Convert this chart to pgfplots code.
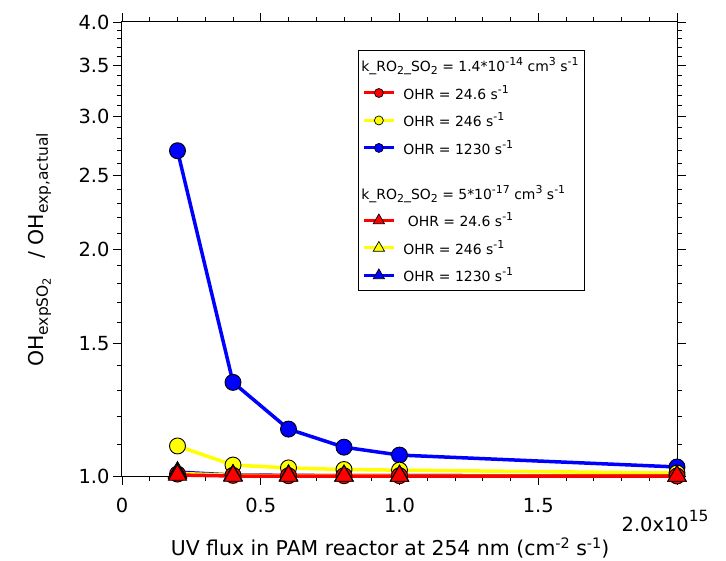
\documentclass[border=0pt]{standalone}
\usepackage{pgfplots}
\pgfplotsset{compat=1.18}
\usepackage{fontspec}
\setmainfont{DejaVu Sans}
\definecolor{cred}{RGB}{255,0,0}
\definecolor{cyel}{RGB}{255,255,0}
\definecolor{cblue}{RGB}{0,0,255}
\newcommand{\sbs}[1]{\raisebox{-4bp}{\fontsize{15.5}{17}\selectfont #1}}
\newcommand{\sps}[1]{\raisebox{7bp}{\fontsize{14.5}{16}\selectfont #1}}
\newcommand{\lsps}[1]{\raisebox{6bp}{\fontsize{11}{13}\selectfont #1}}
\newcommand{\lsbs}[1]{\raisebox{-3bp}{\fontsize{11}{13}\selectfont #1}}
\pgfplotsset{
  circ/.style={color=#1, line width=3.5bp, mark=*, mark size=8bp,
    mark options={fill=#1, draw=black, line width=0.9bp, solid}},
  tri/.style={color=#1, line width=3.5bp, mark=triangle*, mark size=10.5bp,
    mark options={fill=#1, draw=black, line width=0.9bp, solid}},
  lcirc/.style={color=#1, line width=3bp, mark=*, mark size=4.5bp,
    mark options={fill=#1, draw=black, line width=0.7bp, solid}},
  ltri/.style={color=#1, line width=3bp, mark=triangle*, mark size=6.5bp,
    mark options={fill=#1, draw=black, line width=0.7bp, solid}},
}
\begin{document}
\begin{tikzpicture}
\useasboundingbox (-122bp,-85bp) rectangle (604bp,476bp);
\begin{axis}[
  at={(0,0)}, anchor=south west,
  scale only axis, width=555bp, height=454bp,
  xmin=0, xmax=2.0, ymode=log, ymin=1.0, ymax=4.0,
  xtick={0,0.5,1.0,1.5,2.0},
  xticklabels={0,0.5,1.0,1.5,{}},
  minor xtick={0.1,0.2,0.3,0.4,0.6,0.7,0.8,0.9,1.1,1.2,1.3,1.4,1.6,1.7,1.8,1.9},
  ytick={1,1.5,2,2.5,3,3.5,4},
  yticklabels={1.0,1.5,2.0,2.5,3.0,3.5,4.0},
  minor ytick={1.1,1.2,1.3,1.4,1.6,1.7,1.8,1.9,2.1,2.2,2.3,2.4,2.6,2.7,2.8,2.9,3.1,3.2,3.3,3.4,3.6,3.7,3.8,3.9},
  tick align=outside,
  major tick length=9bp, minor tick length=5bp,
  every tick/.style={black, line width=0.9bp},
  axis line style={line width=1bp},
  tick label style={font=\fontsize{19.5}{22}\selectfont},
  xticklabel style={yshift=-10bp},
  /pgf/number format/assume math mode=true,
  xlabel={UV flux in PAM reactor at 254 nm (cm\sps{-2} s\sps{-1})},
  ylabel={OH\sbs{expSO\raisebox{-3bp}{\fontsize{11.5}{13}\selectfont 2}}\ \ \ / OH\sbs{exp,actual}},
  label style={font=\fontsize{20.5}{23}\selectfont},
  x label style={at={(axis description cs:0.483,-0.158)}, anchor=center},
  y label style={at={(axis description cs:-0.148,0.498)}, anchor=center},
  clip=false,
  legend cell align=left,
  legend image code/.code={\draw[mark repeat=2,mark phase=2,#1] plot coordinates {(0bp,0bp) (15bp,0bp) (30bp,0bp)};},
  legend style={at={(rel axis cs:0.425,0.938)}, anchor=north west, draw=black, line width=1bp,
    font=\fontsize{14}{17}\selectfont, row sep=8bp, column sep=6bp, inner xsep=4bp, inner ysep=5bp},
]
% circles: k = 1.4e-14
\addplot[circ=cblue, forget plot] coordinates {(0.2,2.70) (0.4,1.331) (0.6,1.154) (0.8,1.092) (1.0,1.066) (2.0,1.028)};
\addplot[circ=cyel, forget plot] coordinates {(0.2,1.096) (0.4,1.034) (0.6,1.025) (0.8,1.020) (1.0,1.018) (2.0,1.009)};
\addplot[circ=cred, forget plot] coordinates {(0.2,1.006) (0.4,1.002) (0.6,1.001) (0.8,1.001) (1.0,1.001) (2.0,1.000)};
% triangles: k = 5e-17
\addplot[tri=cblue, forget plot] coordinates {(0.2,1.012) (0.4,1.003) (0.6,1.002) (0.8,1.001) (1.0,1.001) (2.0,1.000)};
\addplot[tri=cyel, forget plot] coordinates {(0.2,1.008) (0.4,1.002) (0.6,1.001) (0.8,1.001) (1.0,1.000) (2.0,1.000)};
\addplot[tri=cred, forget plot] coordinates {(0.2,1.003) (0.4,1.000) (0.6,1.000) (0.8,1.000) (1.0,1.000) (2.0,1.000)};

\addlegendimage{empty legend}
\addlegendentry{\hspace*{-42bp}k\_RO\lsbs{2}\_SO\lsbs{2} = 1.4*10\lsps{-14} cm\lsps{3} s\lsps{-1}}
\addlegendimage{lcirc=cred}\addlegendentry{OHR = 24.6 s\lsps{-1}}
\addlegendimage{lcirc=cyel}\addlegendentry{OHR = 246 s\lsps{-1}}
\addlegendimage{lcirc=cblue}\addlegendentry{OHR = 1230 s\lsps{-1}}
\addlegendimage{empty legend}\addlegendentry{\rule{0pt}{4bp}}
\addlegendimage{empty legend}
\addlegendentry{\hspace*{-42bp}k\_RO\lsbs{2}\_SO\lsbs{2} = 5*10\lsps{-17} cm\lsps{3} s\lsps{-1}}
\addlegendimage{ltri=cred}\addlegendentry{\ OHR = 24.6 s\lsps{-1}}
\addlegendimage{ltri=cyel}\addlegendentry{OHR = 246 s\lsps{-1}}
\addlegendimage{ltri=cblue}\addlegendentry{OHR = 1230 s\lsps{-1}}

\node[anchor=west, font=\fontsize{19.5}{22}\selectfont, inner sep=0pt] at (axis description cs:0.9,-0.099) {2.0x10\raisebox{10bp}{\fontsize{15.5}{17}\selectfont 15}};
\end{axis}
\end{tikzpicture}
\end{document}
